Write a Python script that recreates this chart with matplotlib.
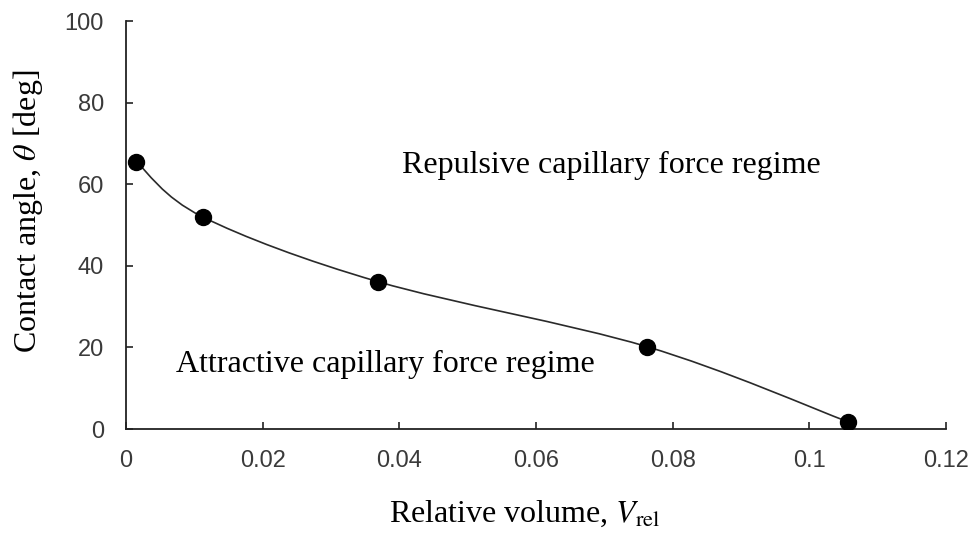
import numpy as np
import matplotlib
matplotlib.use("Agg")
import matplotlib.pyplot as plt
from matplotlib.path import Path
from matplotlib.patches import PathPatch

# relative volume vs. contact angle at the regime boundary
v_rel = [0.0015, 0.0112, 0.0369, 0.0762, 0.1056]
theta = [65.5, 52.0, 36.1, 20.2, 1.8]

x_ticks = [0, 0.02, 0.04, 0.06, 0.08, 0.1, 0.12]
x_labels = ["0", "0.02", "0.04", "0.06", "0.08", "0.1", "0.12"]
y_ticks = [0, 20, 40, 60, 80, 100]

plt.rcParams['mathtext.fontset'] = 'stix'


def smooth_path(xs, ys):
    # spreadsheet-style smoothed line: cubic bezier, catmull-rom tangents
    p = np.column_stack([xs, ys]).astype(float)
    n = len(p)
    verts = [p[0]]
    codes = [Path.MOVETO]
    for i in range(n - 1):
        prev = p[i - 1] if i > 0 else p[i]
        nxt = p[i + 2] if i + 2 < n else p[i + 1]
        c1 = p[i] + (p[i + 1] - prev) / 6.0
        c2 = p[i + 1] - (nxt - p[i]) / 6.0
        verts += [c1, c2, p[i + 1]]
        codes += [Path.CURVE4] * 3
    return Path(verts, codes)


def main():
    W, H = 976, 537
    fig = plt.figure(figsize=(W / 100, H / 100), dpi=100)
    ax = fig.add_axes([126 / W, 1 - 429 / H, 820 / W, 408 / H])

    ax.add_patch(PathPatch(smooth_path(v_rel, theta), fill=False,
                           edgecolor='#2a2a2a', lw=1.2, zorder=2))
    ax.plot(v_rel, theta, 'o', color='black', markersize=11.5, zorder=3)

    ax.set_xlim(0, 0.12)
    ax.set_ylim(0, 100)
    ax.set_xticks(x_ticks)
    ax.set_xticklabels(x_labels)
    ax.set_yticks(y_ticks)

    for s in ['top', 'right']:
        ax.spines[s].set_visible(False)
    for s in ['left', 'bottom']:
        ax.spines[s].set_linewidth(1.3)
        ax.spines[s].set_color('#222222')

    ax.tick_params(direction='in', length=5, width=1.2, color='#222222',
                   labelsize=17, labelcolor='#3a3a3a')
    ax.tick_params(axis='x', pad=15)
    ax.tick_params(axis='y', pad=16)
    for lab in ax.get_xticklabels() + ax.get_yticklabels():
        lab.set_family('Liberation Sans')

    serif = 'Liberation Serif'
    fig.text(524.5 / W, 1 - 521.5 / H, r'Relative volume, $V_{\rm rel}$',
             family=serif, fontsize=23, ha='center', va='baseline')
    fig.text(28 / W, 1 - 211 / H, r'Contact angle, $\theta$ [deg]',
             family=serif, fontsize=23, rotation=90, ha='center', va='center')

    ax.text(0.0404, 62.8, 'Repulsive capillary force regime', family=serif,
            fontsize=23, va='baseline', ha='left')
    ax.text(0.0073, 14.0, 'Attractive capillary force regime', family=serif,
            fontsize=23, va='baseline', ha='left')

    fig.savefig('out.png', dpi=100)


if __name__ == "__main__":
    main()
